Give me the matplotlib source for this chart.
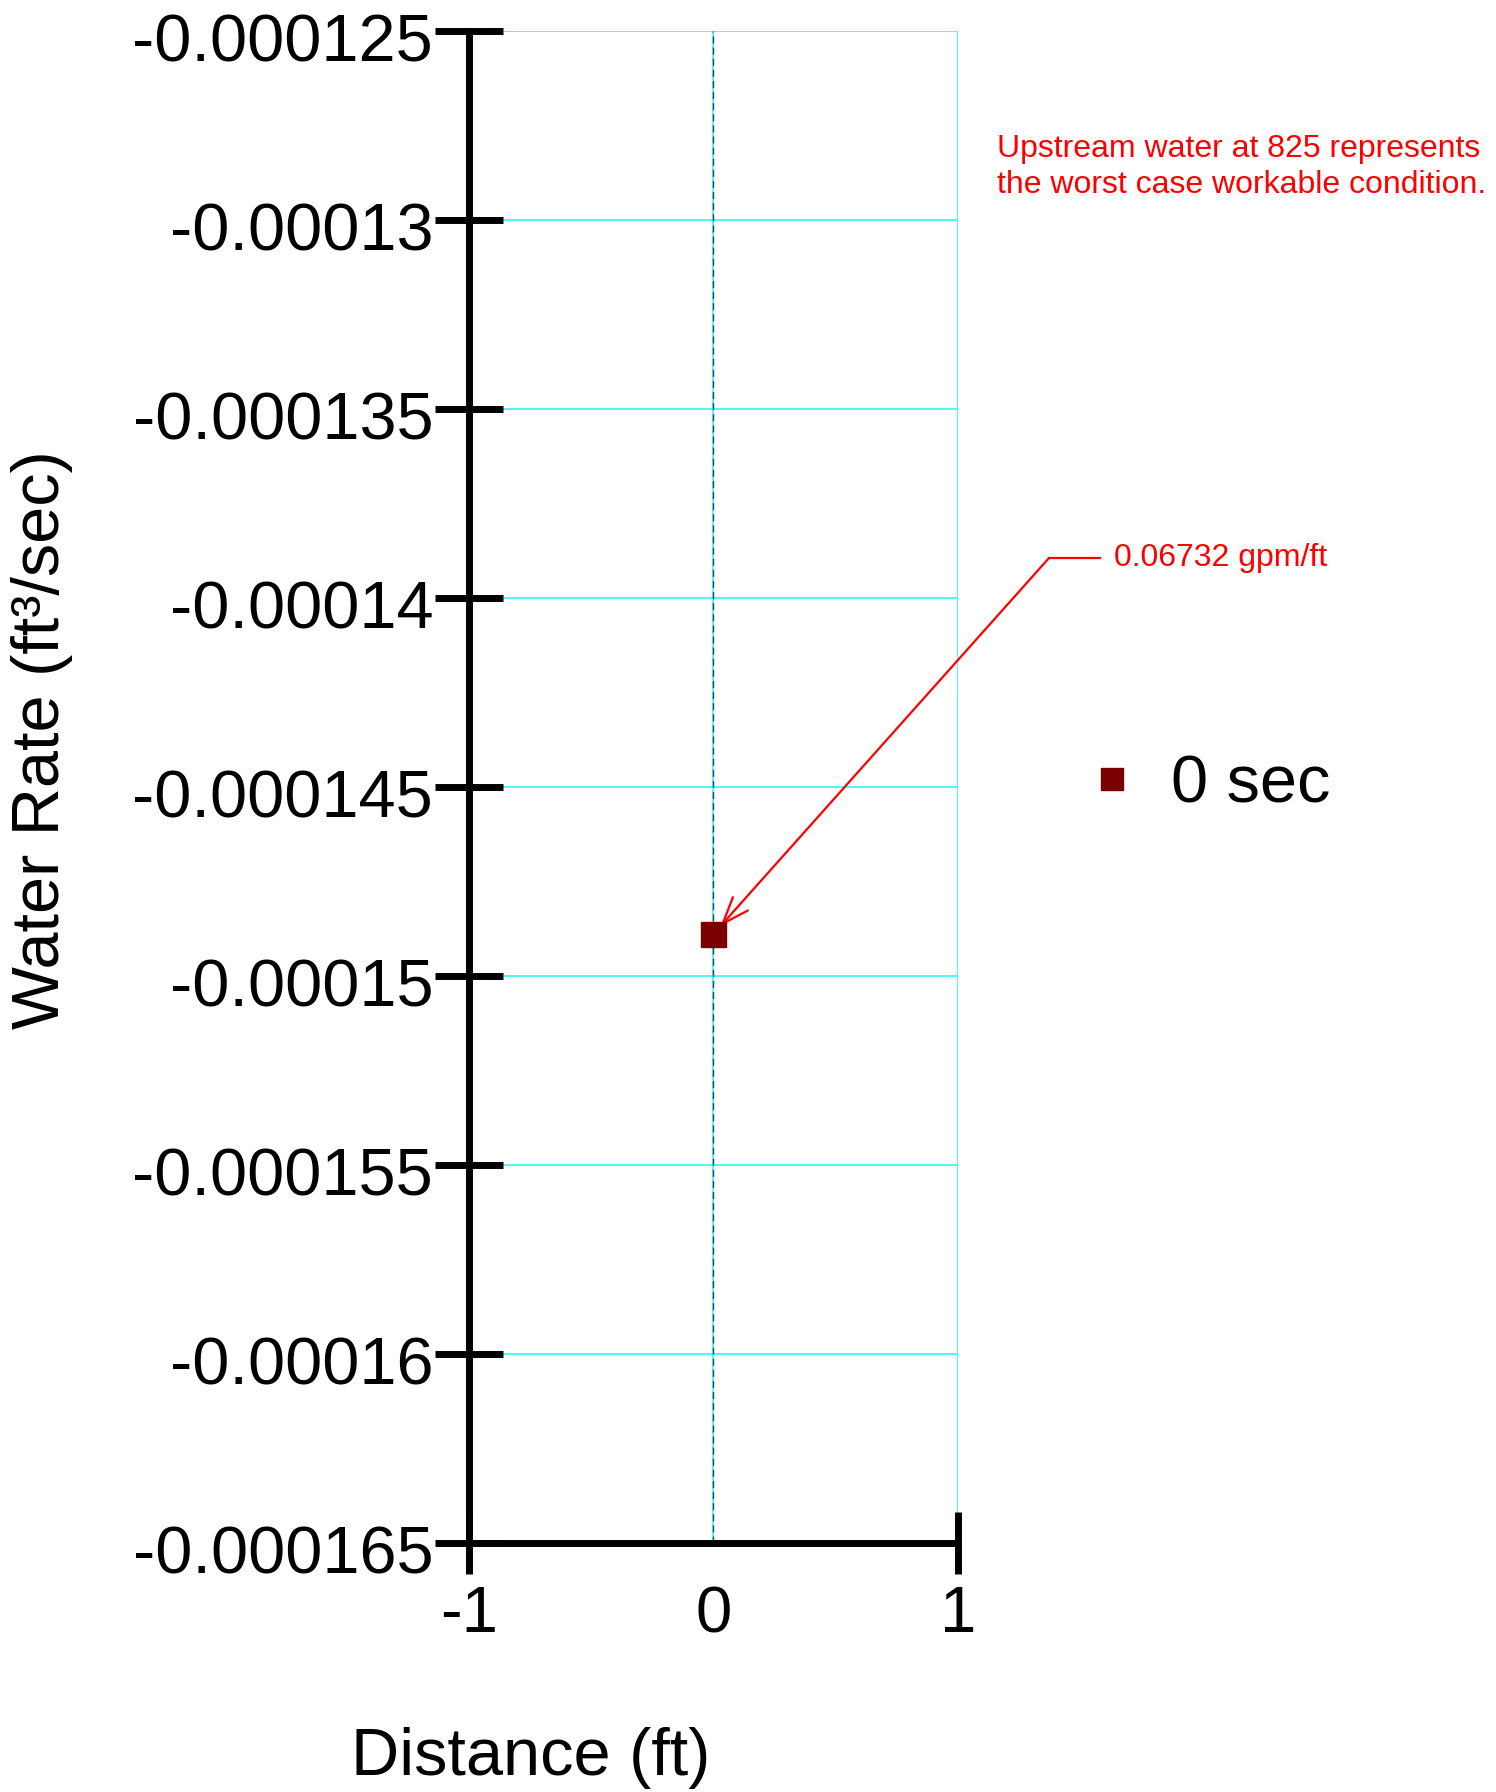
"""
Water rate vs distance, single snapshot at 0 sec.
"""

import matplotlib
matplotlib.use("Agg")
import matplotlib.pyplot as plt
import matplotlib.transforms as mtransforms
from matplotlib.lines import Line2D

plt.rcParams["font.family"] = ["Liberation Sans", "DejaVu Sans"]

# data
distance_ft = [0.0]
water_rate = [-0.0001489]
series_label = "0 sec"
callout_text = "0.06732 gpm/ft"
note_text = "Upstream water at 825 represents\nthe worst case workable condition."

x_ticks = [-1, 0, 1]
x_tick_labels = ["-1", "0", "1"]
y_ticks = [-0.000165, -0.00016, -0.000155, -0.00015, -0.000145,
           -0.00014, -0.000135, -0.00013, -0.000125]
y_tick_labels = ["-0.000165", "-0.00016", "-0.000155", "-0.00015", "-0.000145",
                 "-0.00014", "-0.000135", "-0.00013", "-0.000125"]

W, H = 1496, 1792
fig = plt.figure(figsize=(W / 100, H / 100), dpi=100)
ax = fig.add_axes([468.6 / W, 1 - 1543 / H, (957.7 - 468.6) / W, (1543 - 30.9) / H])

ax.set_xlim(-1, 1)
ax.set_ylim(y_ticks[0], y_ticks[-1])

# grid: cyan lines at each tick
for yv in y_ticks:
    ax.axhline(yv, color="#3ff8f8", lw=1.3, zorder=1)
for xv in x_ticks[1:]:
    ax.axvline(xv, color="#3ff8f8", lw=1.3, zorder=1)
ax.axvline(0, color="#1a4f4f", lw=1.0, ls=(0, (5, 3)), zorder=2)

ax.plot(distance_ft, water_rate, ls="none", marker="s", ms=18,
        color="#7a0000", label=series_label, zorder=5)

# axes styling
for side in ["top", "right"]:
    ax.spines[side].set_visible(False)
for side in ["left", "bottom"]:
    ax.spines[side].set_linewidth(5)
    ax.spines[side].set_capstyle("round")

ax.set_xticks(x_ticks)
ax.set_xticklabels(x_tick_labels)
ax.set_yticks(y_ticks)
ax.set_yticklabels(y_tick_labels)
ax.tick_params(axis="y", direction="inout", length=49, width=5, pad=1, labelsize=48)
ax.tick_params(axis="x", direction="inout", length=45, width=5, pad=8, labelsize=47)
for t in ax.xaxis.get_major_ticks():
    t.tick1line.set_solid_capstyle("round")
for t in ax.yaxis.get_major_ticks():
    t.tick1line.set_solid_capstyle("round")
ax.xaxis.get_major_ticks()[1].tick1line.set_visible(False)

# y tick labels sit a little below their ticks in the original
shift = mtransforms.ScaledTranslation(0, -7 / 100, fig.dpi_scale_trans)
for lbl in ax.get_yticklabels():
    lbl.set_transform(lbl.get_transform() + shift)

# axis labels placed in figure space
fig.text(531 / W, 1 - 1758 / H, "Distance (ft)", fontsize=48, ha="center", va="center")
fig.text(42 / W, 1 - 740 / H, "Water Rate (ft\u00b3/sec)", fontsize=48,
         ha="center", va="center", rotation=90)

# callout with leader line
elbow = (1049, H - 558)
fig.add_artist(Line2D([elbow[0] / W, 1100 / W], [elbow[1] / H, elbow[1] / H],
                      color="red", lw=1.6))
ax.annotate("", xy=(distance_ft[0], water_rate[0]), xycoords="data",
            xytext=elbow, textcoords="figure pixels",
            arrowprops=dict(arrowstyle="->,head_length=0.8,head_width=0.3",
                            color="red", lw=1.6, shrinkA=0, shrinkB=8,
                            mutation_scale=24))
fig.text(1114 / W, 1 - 558 / H, callout_text, fontsize=23, color="red",
         ha="left", va="center")

fig.text(997 / W, 1 - 167 / H, note_text, fontsize=23, color="red",
         ha="left", va="center", linespacing=1.27)

leg = ax.legend(loc="center left", bbox_to_anchor=(1079 / W, 1 - 785 / H),
                bbox_transform=fig.transFigure, frameon=False, fontsize=48,
                handlelength=1.0, handletextpad=0.38, borderpad=0,
                borderaxespad=0, markerscale=0.9)

fig.savefig("out.png", dpi=100)
